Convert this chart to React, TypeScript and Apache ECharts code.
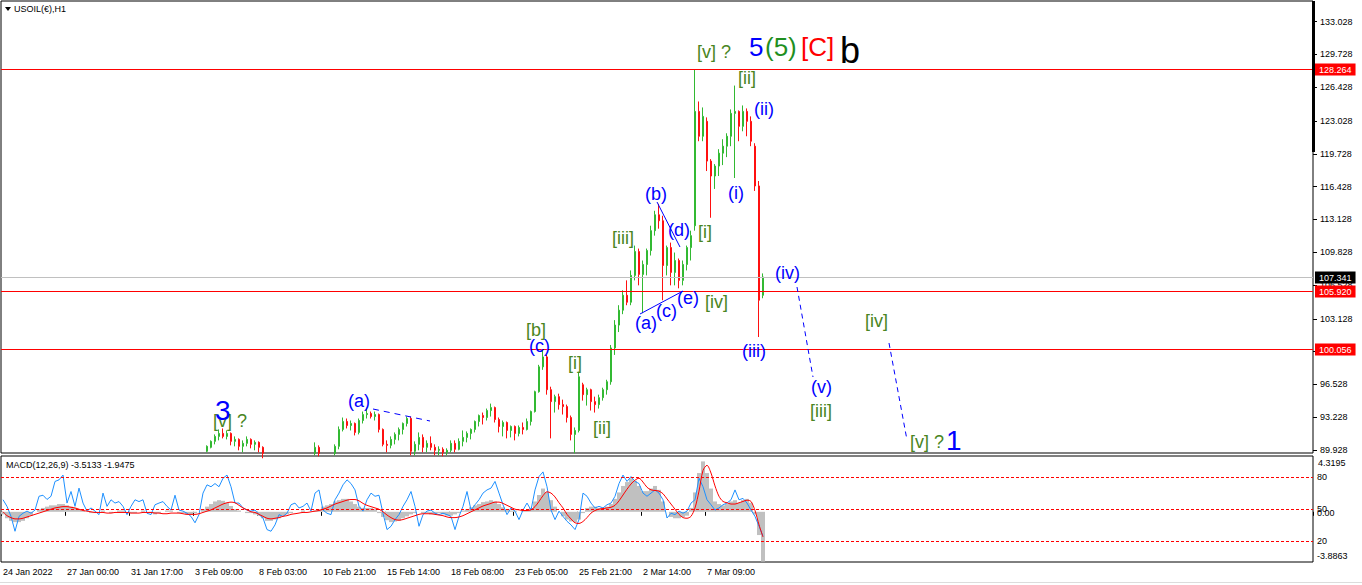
import React, { useEffect, useRef } from 'react';
import * as echarts from 'echarts';

// ---------- data ----------
const X_LABELS = [
  '24 Jan 2022', '27 Jan 00:00', '31 Jan 17:00', '3 Feb 09:00', '8 Feb 03:00', '10 Feb 21:00',
  '15 Feb 14:00', '18 Feb 08:00', '23 Feb 05:00', '25 Feb 21:00', '2 Mar 14:00', '7 Mar 09:00',
];
const LABEL_EVERY = 16;
const SLOT_COUNT = 328;

const PRICE_TICKS = [133.028, 129.728, 126.428, 123.028, 119.728, 116.428, 113.128, 109.828, 106.528, 103.128, 99.828, 96.528, 93.228, 89.928];
const PRICE_MIN = 89.63;
const PRICE_MAX = 135.11;
const RED_LEVELS = [128.264, 105.92, 100.056];
const LAST_PRICE = 107.341;

const OSC_LEVELS = [80, 50, 20];
const MACD_MAX = 4.3195;
const MACD_MIN = -3.8863;
const MACD_TITLE = 'MACD(12,26,9) -3.5133 -1.9475';
const SYMBOL_TITLE = 'USOIL(€),H1';

// [open, close, low, high] ; null = below visible price range
const CANDLES: (number[] | null)[] = [
  ...Array(51).fill(null),
  [89.8, 90.3, 89.7, 90.4], [90.2, 90.8, 90.1, 90.9], [90.8, 91.3, 90.5, 91.5], [91.3, 91.6, 90.9, 92.0],
  [91.6, 91.3, 91.1, 92.1], [91.3, 91.6, 91.0, 91.9], [91.6, 90.8, 90.4, 91.7], [90.8, 91.0, 90.3, 91.3],
  [91.0, 90.3, 89.9, 91.1], [90.3, 90.6, 89.7, 90.9], [90.6, 91.0, 90.3, 91.3], [91.0, 90.5, 90.1, 91.1],
  [90.5, 90.7, 89.9, 90.9], [90.7, 90.2, 89.7, 90.8], [90.2, 89.6, 89.1, 90.3],
  ...Array(12).fill(null),
  [89.6, 90.2, 89.4, 90.7], [90.2, 89.6, 89.3, 90.4],
  ...Array(3).fill(null),
  [89.6, 90.3, 89.4, 90.5], [90.3, 92.0, 90.0, 92.3], [92.0, 92.8, 91.8, 93.2], [92.8, 92.4, 92.1, 93.1],
  [92.4, 92.6, 91.9, 92.9], [92.6, 91.7, 91.4, 92.7], [91.7, 92.9, 91.5, 93.1], [92.9, 93.5, 92.6, 93.8],
  [93.5, 93.6, 93.1, 94.2], [93.6, 93.3, 93.1, 93.8], [93.3, 93.5, 92.9, 93.8], [93.5, 92.0, 91.7, 93.6],
  [92.0, 90.5, 90.3, 92.1], [90.5, 90.4, 89.7, 90.9], [90.4, 91.0, 90.1, 91.3], [91.0, 91.5, 90.5, 91.7],
  [91.5, 92.0, 90.9, 92.2], [92.0, 92.6, 91.5, 92.7], [92.6, 93.1, 92.3, 93.3], [93.1, 89.8, 89.4, 93.3],
  [89.8, 90.5, 89.4, 90.8], [90.5, 91.2, 89.9, 91.7], [91.2, 90.2, 89.7, 91.5], [90.2, 90.6, 89.7, 90.9],
  [90.6, 90.2, 89.9, 91.3], [90.2, 89.9, 89.4, 90.5], [89.9, 90.0, 89.4, 90.3], [90.0, 89.7, 89.3, 90.2],
  [89.7, 89.9, 89.4, 90.1], [89.9, 90.6, 89.7, 90.9], [90.6, 90.0, 89.7, 90.9], [90.0, 90.8, 89.9, 91.1],
  [90.8, 91.2, 90.3, 91.9], [91.2, 91.6, 90.7, 91.8], [91.6, 92.0, 91.0, 92.1], [92.0, 92.8, 91.7, 92.9],
  [92.8, 93.4, 92.3, 93.5], [93.4, 93.2, 92.5, 93.7], [93.2, 93.9, 92.9, 94.1], [93.9, 94.2, 93.3, 94.6],
  [94.2, 93.0, 92.7, 94.3], [93.0, 92.3, 91.7, 93.2], [92.3, 92.7, 91.3, 92.9], [92.7, 91.9, 91.1, 92.8],
  [91.9, 92.3, 91.2, 92.4], [92.3, 91.6, 90.9, 92.4], [91.6, 92.2, 91.3, 92.4], [92.2, 92.0, 91.5, 92.7],
  [92.0, 92.8, 91.9, 93.1], [92.8, 93.8, 92.4, 93.9], [93.8, 95.8, 93.7, 95.9], [95.8, 98.3, 95.7, 98.5],
  [98.3, 99.3, 98.0, 100.0], [99.3, 96.0, 95.5, 99.5], [96.0, 94.8, 91.1, 96.3], [94.8, 95.3, 93.7, 95.5],
  [95.3, 94.5, 94.0, 95.6], [94.5, 94.3, 93.5, 95.0], [94.3, 93.2, 92.7, 94.5], [93.2, 91.5, 90.9, 93.4],
  [91.5, 91.9, 89.6, 92.2], [91.9, 97.3, 91.7, 97.8], [96.5, 95.5, 94.9, 96.7], [95.5, 96.0, 94.4, 96.2],
  [96.0, 94.8, 93.9, 96.1], [94.8, 94.5, 93.7, 95.3], [94.5, 95.2, 94.1, 95.5], [95.2, 96.0, 94.9, 96.2],
  [96.0, 96.8, 95.5, 97.0], [96.8, 100.2, 96.5, 100.5], [100.2, 102.5, 99.5, 103.0], [102.5, 104.0, 101.8, 104.5],
  [104.0, 105.5, 103.6, 106.0], [105.5, 104.8, 104.5, 107.0], [104.8, 107.5, 104.5, 108.0], [107.5, 109.9, 107.0, 110.5],
  [109.9, 107.6, 106.5, 110.2], [107.6, 108.6, 103.7, 109.0], [108.6, 110.0, 107.5, 110.2], [110.0, 112.0, 109.5, 112.5],
  [112.0, 113.6, 111.5, 114.0], [113.6, 113.0, 112.2, 114.7], [113.0, 108.5, 105.0, 113.5], [108.5, 110.3, 107.5, 110.5],
  [110.3, 107.8, 106.5, 110.8], [107.8, 109.0, 106.5, 109.8], [109.0, 107.0, 106.2, 109.2], [107.0, 108.6, 106.5, 109.0],
  [108.6, 110.3, 108.0, 110.5], [110.3, 111.5, 109.0, 112.0], [112.5, 124.0, 112.0, 128.26], [124.0, 121.5, 121.0, 125.0],
  [121.5, 123.5, 121.0, 124.4], [123.0, 119.0, 118.0, 123.4], [119.0, 117.5, 113.3, 119.2], [117.5, 118.5, 116.2, 118.7],
  [118.5, 119.8, 117.5, 120.2], [119.8, 120.5, 118.6, 121.2], [120.5, 121.5, 119.4, 121.8], [121.5, 123.8, 120.5, 124.2],
  [123.8, 124.0, 117.3, 126.6], [124.0, 122.5, 121.0, 124.1], [122.5, 124.0, 122.0, 124.6], [124.0, 123.0, 121.5, 124.3],
  [123.0, 121.0, 120.5, 123.5], [120.5, 116.5, 116.0, 120.8], [116.5, 105.0, 101.3, 117.0], [105.5, 107.34, 105.2, 107.7],
];

const MACD_HIST = [
  -0.2, -0.5,
  -0.7, -0.8, -0.8, -0.7, -0.5, -0.3,
  0.0, 0.2, 0.3, 0.4, 0.5, 0.5, 0.6, 0.6, 0.5, 0.4,
  0.3, 0.2, 0.1,
  0.0, -0.1, -0.1, 0.0, 0.1, 0.0, -0.1, 0.0, 0.1, 0.1, 0.0, -0.1, -0.1, 0.0, 0.1, 0.0, -0.1, -0.2, -0.1, 0.0, 0.1, 0.1, 0.0, -0.1, -0.1, -0.2, -0.2, -0.1, 0.0,
  0.2, 0.4, 0.6, 0.8, 0.9, 0.85, 0.7, 0.45, 0.2,
  0.1, 0.0, -0.1, -0.1, -0.2, -0.3,
  -0.5, -0.7, -0.7, -0.6, -0.5, -0.3, -0.2,
  -0.1, 0.0, 0.0, 0.1, 0.0, 0.0, 0.1,
  0.2, 0.4, 0.5, 0.6, 0.8, 0.9, 1.0, 1.0, 0.8, 0.6,
  0.4, 0.3, 0.3, 0.3, 0.2,
  -0.1, -0.4, -0.65, -0.8, -0.75, -0.7, -0.5, -0.35,
  -0.2, -0.1, 0.0, -0.1, -0.1, -0.2, -0.2, -0.1, -0.2, -0.3, -0.3, -0.2, -0.1,
  0.1, 0.2, 0.35, 0.5, 0.6, 0.75, 0.8, 0.9, 0.8, 0.6, 0.35, 0.2,
  0.1, 0.1, 0.0, 0.1, 0.1, 0.3,
  0.8, 1.3, 1.8, 1.5, 0.9,
  0.4, 0.0, -0.35, -0.6, -0.75, -0.8, -0.6,
  -0.1, 0.3, 0.4, 0.4, 0.3, 0.3, 0.4, 0.6,
  1.0, 1.5, 2.0, 2.3, 2.6, 2.4, 2.0,
  1.6, 1.6, 1.8, 2.0, 1.7,
  0.8, 0.0, -0.4, -0.5, -0.5, -0.4, -0.3,
  0.3, 1.5, 3.0,
  3.9, 3.0, 1.8, 0.8,
  0.6, 0.5, 0.6, 0.8, 0.9, 0.7, 0.9, 1.0,
  0.7, -0.2, -1.8, -3.85,
];

const MACD_SIGNAL = [
  0, -0.3, -0.45, -0.55, -0.55,
  -0.5, -0.4, -0.3, -0.2, -0.1,
  0.0, 0.1, 0.2, 0.3, 0.35, 0.4, 0.4,
  0.35, 0.3, 0.2, 0.1, 0.05, 0.0,
  -0.05, -0.05, -0.05, -0.1, -0.1, -0.05, -0.05, -0.05, -0.05, -0.1, -0.1, -0.1, -0.05, -0.05, -0.05, -0.1, -0.1, -0.15, -0.15, -0.1, -0.1, -0.1, -0.15, -0.2, -0.2, -0.2, -0.15,
  -0.05, 0.05, 0.15, 0.3, 0.45, 0.6, 0.7, 0.75,
  0.7, 0.5, 0.3, 0.15, 0.0, -0.05,
  -0.2, -0.35, -0.5, -0.55, -0.5, -0.45, -0.35,
  -0.3, -0.2, -0.15, -0.1, -0.05, -0.05, 0.0,
  0.05, 0.1, 0.2, 0.3, 0.45, 0.6, 0.7, 0.8, 0.9, 0.95, 0.95,
  0.85, 0.65, 0.5, 0.4, 0.3,
  0.2, 0.0, -0.25, -0.45, -0.6,
  -0.65, -0.6, -0.5, -0.4, -0.3, -0.2,
  -0.15, -0.15, -0.15, -0.2, -0.25, -0.3, -0.4, -0.45, -0.45, -0.4,
  -0.3, -0.15, 0.0, 0.15, 0.3, 0.45, 0.55, 0.65, 0.75, 0.75,
  0.65, 0.5, 0.35, 0.2, 0.15, 0.1, 0.1,
  0.15, 0.4, 0.8, 1.25, 1.55,
  1.45, 1.15, 0.7, 0.3, -0.2, -0.55, -0.85,
  -0.9, -0.75, -0.45, -0.1, 0.1, 0.2, 0.25, 0.3,
  0.35, 0.5, 0.85, 1.3, 1.75, 2.15, 2.45, 2.6,
  2.3, 1.9, 1.7, 1.65, 1.6,
  1.4, 1.0, 0.6, 0.2, -0.2, -0.45, -0.5,
  -0.35, 0.3, 1.6,
  3.2, 3.6, 3.0, 2.0,
  1.2, 0.8, 0.7, 0.6, 0.6, 0.7, 0.8, 0.9,
  0.8, 0.1, -1.0, -1.95,
];

// blue oscillator, 0..100 scale
const OSC = [
  58.75, 52.5, 43, 29, 43, 46, 48, 46, 49, 62,
  63, 59, 62, 76, 77.5, 82, 55.6, 66.5, 52.5, 69.7,
  55.6, 48, 51, 48, 44.7, 65, 52.5, 58.7, 55.6, 57,
  52.5, 44.7, 52.5, 58.7, 57, 58.7, 46, 44.7, 54, 55.6,
  57, 52.5, 49, 63, 49, 48, 46, 43, 37, 44.7,
  65, 72.8, 71, 74, 71, 79, 82, 71, 55.6, 55.6,
  51, 49, 48, 49, 44.7, 41.5, 30.6, 29, 35, 44.7,
  43, 46, 54, 55.6, 51, 52.5, 55.6, 48, 65, 68,
  49, 46, 44.7, 58.7, 65, 72.8, 77.5, 74, 68, 52.5,
  48, 58.7, 65, 62, 63, 46, 30.6, 33.7, 40, 44.7,
  52.5, 58.7, 66.5, 52.5, 33.7, 44.7, 48, 49, 46, 44.7,
  46, 44.7,
  43, 30.6, 43, 52.5, 66.5, 49, 54, 58.7, 65, 68,
  69.7, 76, 65, 54, 44.7, 51, 48, 40, 49, 55.6,
  49, 68, 80.6, 85, 71, 49, 40, 48, 43, 38.4,
  35, 30.6, 40, 65, 62, 55.6, 51, 52.5, 51, 54,
  55.6, 62, 74, 82, 76, 80.6, 76, 74, 65, 62,
  65, 68, 65, 58.7, 41.5, 46, 44.7, 48, 46, 48,
  55.6, 58.7, 79, 71, 58.7, 54, 49, 51, 54, 55.6,
  58.7, 68, 58.7, 60, 55.6, 49, 43, 33.7, 24.4,
];

// ---------- styles / annotation layout ----------
const FONT = 'Liberation Sans, Arial, sans-serif';
const UP = '#32b932';
const DOWN = '#ff1010';
const OLIVE = '#4a8522';
const BLUE = '#0000ff';
const RED = '#ff0000';
const GRID_LEFT = 1;
const GRID_RIGHT = 1313;

type Ann = { t: string; x: number; y: number; c: string; s: number };
const ANNOTATIONS: Ann[] = [
  { t: '[v] ?', x: 213, y: 421, c: OLIVE, s: 18 },
  { t: '3', x: 215, y: 410, c: BLUE, s: 28 },
  { t: '(a)', x: 348, y: 401, c: BLUE, s: 18 },
  { t: '[b]', x: 526, y: 330, c: OLIVE, s: 18 },
  { t: '(c)', x: 529, y: 346, c: BLUE, s: 18 },
  { t: '[i]', x: 568, y: 363, c: OLIVE, s: 18 },
  { t: '[ii]', x: 593, y: 428, c: OLIVE, s: 18 },
  { t: '[iii]', x: 612, y: 238, c: OLIVE, s: 18 },
  { t: '(a)', x: 635, y: 323, c: BLUE, s: 18 },
  { t: '(b)', x: 645, y: 194, c: BLUE, s: 18 },
  { t: '(c)', x: 656, y: 311, c: BLUE, s: 18 },
  { t: '(d)', x: 668, y: 230, c: BLUE, s: 18 },
  { t: '(e)', x: 677, y: 298, c: BLUE, s: 18 },
  { t: '[iv]', x: 705, y: 302, c: OLIVE, s: 18 },
  { t: '[i]', x: 698, y: 232, c: OLIVE, s: 18 },
  { t: '[v] ?', x: 697, y: 52, c: OLIVE, s: 18 },
  { t: '5', x: 749, y: 47, c: BLUE, s: 26 },
  { t: '(5)', x: 765, y: 47, c: '#1f8f1f', s: 26 },
  { t: '[C]', x: 801, y: 47, c: RED, s: 26 },
  { t: 'b', x: 840, y: 50, c: '#000000', s: 36 },
  { t: '[ii]', x: 738, y: 78, c: OLIVE, s: 18 },
  { t: '(ii)', x: 754, y: 109, c: BLUE, s: 18 },
  { t: '(i)', x: 728, y: 193, c: BLUE, s: 18 },
  { t: '(iv)', x: 775, y: 273, c: BLUE, s: 18 },
  { t: '(iii)', x: 742, y: 351, c: BLUE, s: 18 },
  { t: '(v)', x: 811, y: 387, c: BLUE, s: 18 },
  { t: '[iii]', x: 810, y: 411, c: OLIVE, s: 18 },
  { t: '[iv]', x: 865, y: 321, c: OLIVE, s: 18 },
  { t: '[v] ?', x: 910, y: 442, c: OLIVE, s: 18 },
  { t: '1', x: 946, y: 440, c: BLUE, s: 28 },
];

type Seg = { x1: number; y1: number; x2: number; y2: number; dash: number[] | null };
const WAVE_LINES: Seg[] = [
  { x1: 373, y1: 409, x2: 430, y2: 421, dash: [6, 5] },
  { x1: 640, y1: 314, x2: 683, y2: 291, dash: null },
  { x1: 657, y1: 202, x2: 680, y2: 247, dash: null },
  { x1: 797, y1: 287, x2: 813, y2: 377, dash: [5, 4] },
  { x1: 889, y1: 343, x2: 907, y2: 440, dash: [5, 4] },
];

function baseGraphics(): any[] {
  const g: any[] = [
    { type: 'polygon', shape: { points: [[5, 7], [11, 7], [8, 11]] }, style: { fill: '#000' }, z: 10 },
    { type: 'text', x: 14, y: 9, style: { text: SYMBOL_TITLE, fill: '#000', fontSize: 9, fontFamily: FONT, verticalAlign: 'middle' }, z: 10 },
    { type: 'text', x: 6, y: 465, style: { text: MACD_TITLE, fill: '#000', fontSize: 9, fontFamily: FONT, verticalAlign: 'middle' }, z: 10 },
    { type: 'text', x: 1318, y: 463, style: { text: MACD_MAX.toFixed(4), fill: '#000', fontSize: 9, fontFamily: FONT, verticalAlign: 'middle' }, z: 10 },
    { type: 'text', x: 1317, y: 512.5, style: { text: (0).toFixed(2), fill: '#000', fontSize: 9, fontFamily: FONT, verticalAlign: 'middle' }, z: 10 },
    { type: 'text', x: 1317, y: 556, style: { text: MACD_MIN.toFixed(4), fill: '#000', fontSize: 9, fontFamily: FONT, verticalAlign: 'middle' }, z: 10 },
    { type: 'rect', shape: { x: 1312, y: 1, width: 3, height: 151 }, style: { fill: '#000' }, z: 10 },
    { type: 'line', shape: { x1: 0, y1: 582.5, x2: 1362, y2: 582.5 }, style: { stroke: '#dcdcdc', lineWidth: 1 }, z: 10 },
  ];
  WAVE_LINES.forEach((l) => {
    g.push({
      type: 'line',
      shape: { x1: l.x1, y1: l.y1, x2: l.x2, y2: l.y2 },
      style: { stroke: BLUE, lineWidth: 1, lineDash: l.dash || undefined },
      z: 20,
    });
  });
  ANNOTATIONS.forEach((a) => {
    g.push({
      type: 'text', x: a.x, y: a.y,
      style: { text: a.t, fill: a.c, fontSize: a.s, fontFamily: FONT, align: 'left', verticalAlign: 'middle' },
      z: 30,
    });
  });
  return g;
}

// horizontal level lines + price tags, placed through the chart's own y scales
function levelGraphics(chart: any): any[] {
  const g: any[] = [];
  const hline = (y: number, color: string, dash?: number[]) => ({
    type: 'line',
    shape: { x1: GRID_LEFT, y1: Math.round(y) + 0.5, x2: GRID_RIGHT, y2: Math.round(y) + 0.5 },
    style: { stroke: color, lineWidth: 1, lineDash: dash },
    z: 5,
    silent: true,
  });
  const tag = (y: number, text: string, bg: string) => ({
    type: 'text',
    x: GRID_RIGHT + 2,
    y: Math.round(y) + 0.5,
    style: {
      text, fill: '#ffffff', backgroundColor: bg, padding: [1, 4, 1, 4], fontSize: 9, lineHeight: 10,
      fontFamily: FONT, align: 'left', verticalAlign: 'middle',
    },
    z: 40,
  });
  const yLast = chart.convertToPixel({ yAxisIndex: 0 }, LAST_PRICE);
  g.push(hline(yLast, '#c0c0c0'));
  RED_LEVELS.forEach((v) => g.push(hline(chart.convertToPixel({ yAxisIndex: 0 }, v), RED)));
  OSC_LEVELS.forEach((v) => g.push(hline(chart.convertToPixel({ yAxisIndex: 2 }, v), RED, [3, 2])));
  g.push(tag(yLast, LAST_PRICE.toFixed(3), '#000000'));
  RED_LEVELS.forEach((v) => g.push(tag(chart.convertToPixel({ yAxisIndex: 0 }, v), v.toFixed(3), RED)));
  return g;
}

function buildOption(): any {
  const cats = Array.from({ length: SLOT_COUNT }, (_, i) => String(i));
  const showTick = (idx: number) => idx % LABEL_EVERY === 0 && idx / LABEL_EVERY < X_LABELS.length;
  const candleData = CANDLES.map((c) => (c ? c : ['-', '-', '-', '-']));

  return {
    animation: false,
    backgroundColor: '#ffffff',
    grid: [
      { left: GRID_LEFT, top: 1, width: GRID_RIGHT - GRID_LEFT, height: 452, show: true, borderColor: '#000', borderWidth: 1, outerBoundsMode: 'none' },
      { left: GRID_LEFT, top: 456, width: GRID_RIGHT - GRID_LEFT, height: 106, show: true, borderColor: '#000', borderWidth: 1, outerBoundsMode: 'none' },
    ],
    xAxis: [
      {
        type: 'category', gridIndex: 0, data: cats, boundaryGap: true,
        axisLine: { show: false }, axisTick: { show: false }, axisLabel: { show: false }, splitLine: { show: false },
      },
      {
        type: 'category', gridIndex: 1, data: cats, boundaryGap: true,
        axisLine: { show: false },
        axisTick: { show: true, interval: (i: number) => showTick(i), length: 4, lineStyle: { color: '#000' } },
        axisLabel: {
          show: true, interval: (i: number) => showTick(i),
          formatter: (_v: string, i: number) => (showTick(i) ? X_LABELS[i / LABEL_EVERY] : ''),
          align: 'left', margin: 5, fontSize: 9, color: '#000', fontFamily: FONT,
        },
        splitLine: { show: false },
      },
    ],
    yAxis: [
      {
        type: 'value', gridIndex: 0, position: 'right', min: PRICE_MIN, max: PRICE_MAX,
        splitLine: { show: false }, axisLine: { show: false },
        axisTick: { show: true, customValues: PRICE_TICKS, length: 4, lineStyle: { color: '#000' } },
        axisLabel: {
          show: true, customValues: PRICE_TICKS, formatter: (v: number) => Number(v).toFixed(3),
          margin: 7, fontSize: 9, color: '#000', fontFamily: FONT,
        },
      },
      { type: 'value', gridIndex: 1, min: MACD_MIN, max: MACD_MAX, show: false },
      {
        type: 'value', gridIndex: 1, position: 'right', min: 0, max: 100, interval: 10,
        splitLine: { show: false }, axisLine: { show: false }, axisTick: { show: false },
        axisLabel: {
          show: true, margin: 4, fontSize: 9, color: '#000', fontFamily: FONT,
          formatter: (v: number) => (OSC_LEVELS.indexOf(v) >= 0 ? String(v) : ''),
        },
      },
    ],
    series: [
      {
        type: 'candlestick', xAxisIndex: 0, yAxisIndex: 0, data: candleData, barWidth: 2, clip: true, z: 3,
        itemStyle: { color: UP, color0: DOWN, borderColor: UP, borderColor0: DOWN, borderWidth: 1 },
      },
      {
        type: 'bar', xAxisIndex: 1, yAxisIndex: 1, data: MACD_HIST, barWidth: '100%', barCategoryGap: '0%',
        itemStyle: { color: '#c0c0c0' }, z: 1,
      },
      {
        type: 'line', xAxisIndex: 1, yAxisIndex: 2, data: OSC, symbol: 'none', color: '#1e90ff',
        lineStyle: { color: '#1e90ff', width: 1 }, z: 2,
      },
      {
        type: 'line', xAxisIndex: 1, yAxisIndex: 1, data: MACD_SIGNAL, symbol: 'none', smooth: 0.3, color: RED,
        lineStyle: { color: RED, width: 1 }, z: 3,
      },
    ],
    graphic: baseGraphics(),
  };
}

export default function App() {
  const ref = useRef<HTMLDivElement>(null);
  useEffect(() => {
    document.body.style.margin = '0';
    const chart = echarts.init(ref.current!, null, { renderer: 'svg' });
    chart.setOption(buildOption());
    chart.setOption({ graphic: [...baseGraphics(), ...levelGraphics(chart)] }, { replaceMerge: ['graphic'] });
    return () => chart.dispose();
  }, []);
  return <div ref={ref} style={{ width: 1362, height: 585, background: '#fff' }} />;
}
